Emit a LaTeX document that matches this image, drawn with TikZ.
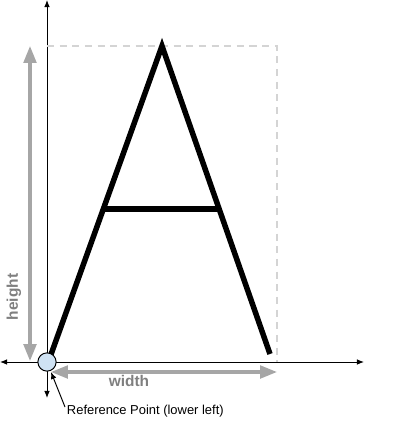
\documentclass[tikz,border=0pt]{standalone}
\usepackage{fontspec}
\setmainfont{Liberation Sans}
\usepackage{xcolor}
\usetikzlibrary{arrows.meta,positioning}
\definecolor{dimgray}{HTML}{A6A6A6}
\definecolor{labelgray}{HTML}{7F7F7F}
\definecolor{boxgray}{HTML}{D4D4D4}
\definecolor{refblue}{HTML}{CFE2F3}

\begin{document}
\begin{tikzpicture}[x=0.025cm,y=-0.025cm,
    axis/.style={->,>={Latex[length=5pt,width=4pt]},line width=0.7pt},
    dimarrow/.style={<->,>={Triangle[length=12pt,width=9pt]},line width=2.2pt,dimgray},
    letter/.style={line width=3.9pt}]
        \useasboundingbox (0,0) rectangle (400,437);
        % axes
        \coordinate (o) at (47,362);
        \draw[axis] (o) -- (0,362);
        \draw[axis] (o) -- (364,362);
        \draw[axis] (o) -- (47,0);
        \draw[axis] (o) -- (47,398);
        % bounding box of the glyph
        \draw[dashed,boxgray,line width=0.9pt,dash pattern=on 5pt off 4pt] (47,46) -- (277,46) -- (277,362);
        % the letter
        \draw[letter] (49,360) -- (162,46) -- (270,354);
        \draw[letter] (105,209) -- (218,209);
        % dimensions
        \draw[dimarrow] (30,46) -- (30,361);
        \node[rotate=90,font=\bfseries\fontsize{11}{13}\selectfont,labelgray] (h) at (14,297) {height};
        \draw[dimarrow] (51,372) -- (277,372);
        \node[font=\bfseries\fontsize{11}{13}\selectfont,labelgray] (w) at (129,381) {width};
        % reference point
        \node[circle,draw,line width=0.7pt,fill=refblue,inner sep=0pt,minimum size=13pt] (refpt) at (o) {};
        \node[anchor=west,font=\fontsize{9.2}{11}\selectfont] (reflabel) at (62,411) {Reference Point (lower left)};
        \draw[->,>={Latex[length=5pt,width=4pt]},line width=0.7pt] (reflabel.west) ++(3,-4) -- (51,372);
\end{tikzpicture}
\end{document}
